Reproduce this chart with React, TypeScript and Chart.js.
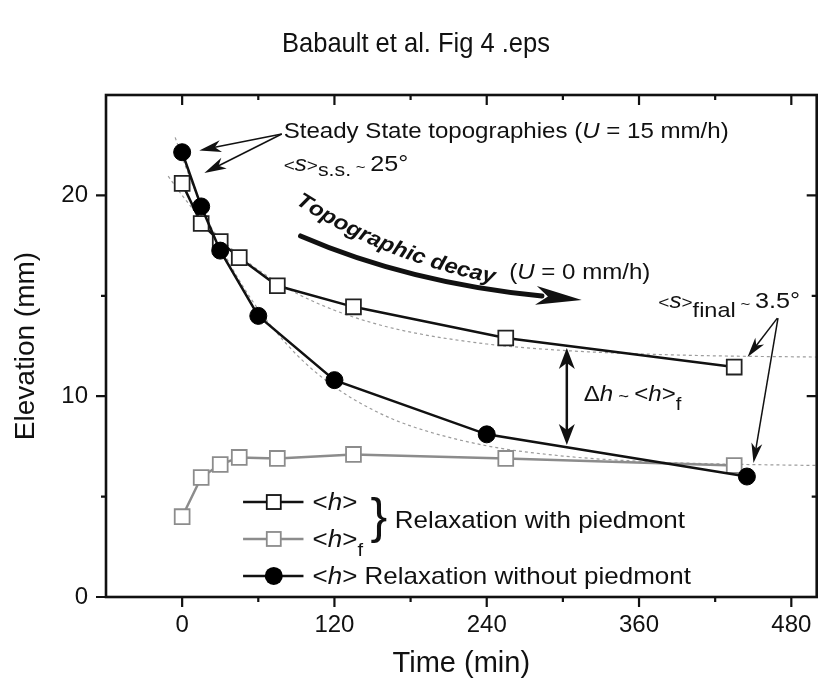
import React, { useEffect, useRef } from "react";
import { Chart, registerables } from "chart.js";

Chart.register(...registerables);

// ---- data ----
const TIME_PIEDMONT = [0, 15, 30, 45, 75, 135, 255, 435];
const H_PIEDMONT = [20.6, 18.6, 17.7, 16.9, 15.5, 14.45, 12.9, 11.45];
const HF_PIEDMONT = [4.0, 5.95, 6.6, 6.95, 6.9, 7.1, 6.9, 6.55];

const TIME_NO_PIEDMONT = [0, 15, 30, 60, 120, 240, 445];
const H_NO_PIEDMONT = [22.15, 19.45, 17.25, 14.0, 10.8, 8.1, 6.0];

const FIT_TIME_PIEDMONT = [-11, 0, 15, 30, 45, 60, 90, 120, 150, 180, 240, 300, 360, 420, 500];
const FIT_H_PIEDMONT = [20.96, 20.0, 18.85, 17.86, 17.02, 16.29, 15.13, 14.28, 13.65, 13.19, 12.6, 12.28, 12.11, 12.01, 11.95];
const FIT_TIME_NO_PIEDMONT = [-5.5, 0, 15, 30, 45, 60, 90, 120, 150, 180, 240, 300, 360, 420, 500];
const FIT_H_NO_PIEDMONT = [22.89, 21.9, 19.5, 17.48, 15.77, 14.33, 12.08, 10.47, 9.33, 8.52, 7.53, 7.02, 6.76, 6.63, 6.55];

const X_TICKS = [0, 120, 240, 360, 480];
const X_MINOR = [60, 180, 300, 420];
const Y_TICKS = [0, 10, 20];
const Y_MINOR = [5, 15];

const TITLE = "Babault et al. Fig 4 .eps";
const X_TITLE = "Time (min)";
const Y_TITLE = "Elevation (mm)";

// ---- style ----
const FONT = '"Liberation Sans", Arial, Helvetica, sans-serif';
const SX = 1.12;
const BLACK = "#111111";
const GRAY = "#8c8c8c";
const FIT_GRAY = "#9c9c9c";
const A = 21.5; // annotation font size
const L = 23.2; // legend font size

type Run = { t: string; size: number; style?: string; dy?: number };

function drawRuns(ctx: CanvasRenderingContext2D, x: number, y: number, runs: Run[]) {
  let cx = x;
  for (const r of runs) {
    ctx.font = `${r.style ? r.style + " " : ""}${r.size}px ${FONT}`;
    const w = ctx.measureText(r.t).width * SX;
    ctx.save();
    ctx.translate(cx, y + (r.dy || 0));
    ctx.scale(SX, 1);
    ctx.textAlign = "left";
    ctx.textBaseline = "alphabetic";
    ctx.fillText(r.t, 0, 0);
    ctx.restore();
    cx += w;
  }
  return cx;
}

function arrowHead(
  ctx: CanvasRenderingContext2D,
  tx: number,
  ty: number,
  ang: number,
  len: number,
  hw: number,
  notch: number
) {
  const dx = Math.cos(ang), dy = Math.sin(ang);
  const nx = -dy, ny = dx;
  ctx.beginPath();
  ctx.moveTo(tx, ty);
  ctx.lineTo(tx - len * dx + hw * nx, ty - len * dy + hw * ny);
  ctx.lineTo(tx - notch * dx, ty - notch * dy);
  ctx.lineTo(tx - len * dx - hw * nx, ty - len * dy - hw * ny);
  ctx.closePath();
  ctx.fill();
}

function thinArrow(ctx: CanvasRenderingContext2D, x0: number, y0: number, x1: number, y1: number, len: number, hw: number) {
  const ang = Math.atan2(y1 - y0, x1 - x0);
  ctx.beginPath();
  ctx.moveTo(x0, y0);
  ctx.lineTo(x1 - Math.cos(ang) * len * 0.6, y1 - Math.sin(ang) * len * 0.6);
  ctx.stroke();
  arrowHead(ctx, x1, y1, ang, len, hw, len * 0.72);
}

const framePlugin = {
  id: "frameTicks",
  afterDraw(chart: any) {
    const { ctx, chartArea: a, scales } = chart;
    const x = scales.x, y = scales.y;
    ctx.save();
    ctx.strokeStyle = BLACK;
    ctx.lineWidth = 2.6;
    ctx.strokeRect(a.left, a.top, a.right - a.left, a.bottom - a.top);
    ctx.lineWidth = 2.2;
    ctx.beginPath();
    const xt = (v: number, len: number) => {
      const px = x.getPixelForValue(v);
      ctx.moveTo(px, a.bottom);
      ctx.lineTo(px, a.bottom + len);
      ctx.moveTo(px, a.top);
      ctx.lineTo(px, a.top + len);
    };
    const yt = (v: number, len: number) => {
      const py = y.getPixelForValue(v);
      ctx.moveTo(a.left, py);
      ctx.lineTo(a.left - len, py);
      ctx.moveTo(a.right, py);
      ctx.lineTo(a.right - len, py);
    };
    X_TICKS.forEach((v) => xt(v, 10));
    X_MINOR.forEach((v) => xt(v, 5));
    Y_TICKS.forEach((v) => yt(v, 10));
    Y_MINOR.forEach((v) => yt(v, 5));
    ctx.stroke();
    ctx.restore();
  },
};

const annotationPlugin = {
  id: "annotations",
  afterDraw(chart: any) {
    const { ctx, scales } = chart;
    const X = (t: number) => scales.x.getPixelForValue(t);
    const Y = (v: number) => scales.y.getPixelForValue(v);
    ctx.save();
    ctx.fillStyle = BLACK;
    ctx.strokeStyle = BLACK;

    // Figure title
    ctx.font = `27.5px ${FONT}`;
    ctx.textAlign = "center";
    ctx.textBaseline = "alphabetic";
    const tw = ctx.measureText(TITLE).width;
    ctx.save();
    ctx.translate(416, 52);
    ctx.scale(268 / tw, 1);
    ctx.fillText(TITLE, 0, 0);
    ctx.restore();

    // Steady state text
    drawRuns(ctx, X(80), Y(22.86), [
      { t: "Steady State topographies (", size: A },
      { t: "U", size: A, style: "italic" },
      { t: " = 15 mm/h)", size: A },
    ]);
    drawRuns(ctx, X(80), Y(21.2), [
      { t: "<", size: 17 },
      { t: "s", size: A, style: "italic" },
      { t: ">", size: 17 },
      { t: "s.s.", size: 19, dy: 5 },
      { t: " ~ ", size: 15, dy: 1 },
      { t: "25°", size: 22.5 },
    ]);
    ctx.lineWidth = 1.5;
    thinArrow(ctx, X(78.5), Y(23.06), X(13.5), Y(22.24), 22, 6);
    thinArrow(ctx, X(78.5), Y(23.06), X(17.5), Y(21.12), 22, 6);

    // Thick curved arrow
    const p0x = X(93.3), p0y = Y(17.98);
    const cx = X(178.7), cy = Y(15.64);
    const p2x = X(283.5), p2y = Y(14.99);
    ctx.lineWidth = 5;
    ctx.lineCap = "round";
    ctx.beginPath();
    ctx.moveTo(p0x, p0y);
    ctx.quadraticCurveTo(cx, cy, p2x, p2y);
    ctx.stroke();
    const ang = Math.atan2(p2y - cy, p2x - cx);
    arrowHead(ctx, p2x + 40 * Math.cos(ang), p2y + 40 * Math.sin(ang), ang, 46, 9.5, 34);

    // Curved bold italic text
    {
      const text = "Topographic decay";
      const size = 21;
      ctx.font = `italic bold ${size}px ${FONT}`;
      const sx0 = X(89), sy0 = Y(19.6);
      const th0 = (33 * Math.PI) / 180;
      const R = 552;
      const ccx = sx0 + R * Math.sin(th0);
      const ccy = sy0 - R * Math.cos(th0);
      let s = 0;
      for (const ch of text) {
        const w = ctx.measureText(ch).width * SX;
        const sm = s + w / 2;
        const th = th0 - sm / R;
        const px = ccx - R * Math.sin(th);
        const py = ccy + R * Math.cos(th);
        ctx.save();
        ctx.translate(px, py);
        ctx.rotate(th);
        ctx.scale(SX, 1);
        ctx.textAlign = "center";
        ctx.fillText(ch, 0, 0);
        ctx.restore();
        s += w;
      }
    }
    drawRuns(ctx, X(257.7), Y(15.84), [
      { t: "(", size: A },
      { t: "U", size: A, style: "italic" },
      { t: " = 0 mm/h)", size: A },
    ]);

    // Final slope annotation
    drawRuns(ctx, X(375.2), Y(14.39), [
      { t: "<", size: 17 },
      { t: "s", size: A, style: "italic" },
      { t: ">", size: 17 },
      { t: "final", size: 21, dy: 9 },
      { t: " ~ ", size: 15, dy: 1 },
      { t: "3.5°", size: 22.5 },
    ]);
    ctx.lineWidth = 1.5;
    ctx.lineCap = "butt";
    thinArrow(ctx, X(469), Y(13.89), X(445.5), Y(11.95), 20, 5.5);
    thinArrow(ctx, X(469.5), Y(13.89), X(450.2), Y(6.67), 20, 5.5);

    // Double-headed arrow
    {
      const ax = X(303.1), ya = Y(12.4), yb = Y(7.57);
      ctx.lineWidth = 2.5;
      ctx.beginPath();
      ctx.moveTo(ax, ya + 12);
      ctx.lineTo(ax, yb - 12);
      ctx.stroke();
      arrowHead(ctx, ax, ya, -Math.PI / 2, 21, 8, 15);
      arrowHead(ctx, ax, yb, Math.PI / 2, 21, 8, 15);
    }
    drawRuns(ctx, X(316.4), Y(9.76), [
      { t: "Δ", size: A },
      { t: "h", size: A, style: "italic" },
      { t: " ~ ", size: 16.5, dy: 1 },
      { t: "<", size: A },
      { t: "h", size: A, style: "italic" },
      { t: ">", size: A },
      { t: "f", size: 18, dy: 9 },
    ]);

    // Legend
    {
      const lx0 = X(48), lx1 = X(95.6), mx = X(72.2), tx = X(102.8);
      const rows = [Y(4.73), Y(2.89), Y(1.05)];
      const drawLine = (yy: number, col: string) => {
        ctx.strokeStyle = col;
        ctx.lineWidth = 2.5;
        ctx.beginPath();
        ctx.moveTo(lx0, yy);
        ctx.lineTo(lx1, yy);
        ctx.stroke();
      };
      const drawSq = (yy: number, col: string) => {
        ctx.fillStyle = "#ffffff";
        ctx.fillRect(mx - 7, yy - 7, 14, 14);
        ctx.strokeStyle = col;
        ctx.lineWidth = 1.8;
        ctx.strokeRect(mx - 7, yy - 7, 14, 14);
      };
      drawLine(rows[0], BLACK);
      drawSq(rows[0], BLACK);
      drawLine(rows[1], GRAY);
      drawSq(rows[1], GRAY);
      drawLine(rows[2], BLACK);
      ctx.fillStyle = "#000";
      ctx.beginPath();
      ctx.arc(mx, rows[2], 9, 0, Math.PI * 2);
      ctx.fill();

      ctx.fillStyle = BLACK;
      const off = 8;
      drawRuns(ctx, tx, rows[0] + off, [
        { t: "<", size: L },
        { t: "h", size: L, style: "italic" },
        { t: ">", size: L },
      ]);
      drawRuns(ctx, tx, rows[1] + off, [
        { t: "<", size: L },
        { t: "h", size: L, style: "italic" },
        { t: ">", size: L },
        { t: "f", size: 18, dy: 9 },
      ]);
      drawRuns(ctx, tx, rows[2] + off, [
        { t: "<", size: L },
        { t: "h", size: L, style: "italic" },
        { t: "> Relaxation without piedmont", size: L },
      ]);
      // brace
      ctx.font = `50px ${FONT}`;
      ctx.textAlign = "left";
      ctx.fillText("}", X(148.5), (rows[0] + rows[1]) / 2 + 13);
      drawRuns(ctx, X(167.6), (rows[0] + rows[1]) / 2 + off, [
        { t: "Relaxation with piedmont", size: L },
      ]);
    }
    ctx.restore();
  },
};

function zip(xs: number[], ys: number[]) {
  return xs.map((x, i) => ({ x, y: ys[i] }));
}

export default function App() {
  const ref = useRef<HTMLCanvasElement | null>(null);
  useEffect(() => {
    if (!ref.current) return;
    const chart = new Chart(ref.current, {
      type: "scatter",
      data: {
        datasets: [
          {
            label: "<h> Relaxation without piedmont",
            data: zip(TIME_NO_PIEDMONT, H_NO_PIEDMONT),
            showLine: true,
            borderColor: BLACK,
            borderWidth: 2.5,
            pointStyle: "circle",
            pointRadius: 8.5,
            pointBackgroundColor: "#000",
            pointBorderColor: "#000",
            pointBorderWidth: 1,
            order: 0,
          },
          {
            label: "<h> Relaxation with piedmont",
            data: zip(TIME_PIEDMONT, H_PIEDMONT),
            showLine: true,
            borderColor: BLACK,
            borderWidth: 2.5,
            pointStyle: "rect",
            pointRadius: 10.5,
            pointBackgroundColor: "#fff",
            pointBorderColor: "#222",
            pointBorderWidth: 1.8,
            order: 1,
          },
          {
            label: "<h>f Relaxation with piedmont",
            data: zip(TIME_PIEDMONT, HF_PIEDMONT),
            showLine: true,
            borderColor: GRAY,
            borderWidth: 2.5,
            pointStyle: "rect",
            pointRadius: 10.5,
            pointBackgroundColor: "#fff",
            pointBorderColor: GRAY,
            pointBorderWidth: 1.8,
            order: 2,
          },
          {
            label: "fit with piedmont",
            data: zip(FIT_TIME_PIEDMONT, FIT_H_PIEDMONT),
            showLine: true,
            borderColor: FIT_GRAY,
            borderWidth: 1.2,
            borderDash: [3, 3],
            pointRadius: 0,
            cubicInterpolationMode: "monotone",
            order: 4,
          },
          {
            label: "fit without piedmont",
            data: zip(FIT_TIME_NO_PIEDMONT, FIT_H_NO_PIEDMONT),
            showLine: true,
            borderColor: FIT_GRAY,
            borderWidth: 1.2,
            borderDash: [3, 3],
            pointRadius: 0,
            cubicInterpolationMode: "monotone",
            order: 5,
          },
        ] as any,
      },
      options: {
        responsive: false,
        animation: false,
        devicePixelRatio: 1,
        layout: { padding: { left: 0, right: 7, top: 95, bottom: 0 } },
        plugins: {
          legend: { display: false },
          tooltip: { enabled: false },
          title: { display: false },
        },
        scales: {
          x: {
            type: "linear",
            min: -60,
            max: 500,
            grid: { display: false, drawTicks: false },
            border: { display: false },
            afterBuildTicks: (s: any) => {
              s.ticks = X_TICKS.map((v) => ({ value: v }));
            },
            afterFit: (s: any) => {
              s.height = 87;
            },
            ticks: {
              color: BLACK,
              font: { family: FONT, size: 24 },
              padding: 14,
              maxRotation: 0,
              autoSkip: false,
            },
            title: {
              display: true,
              text: X_TITLE,
              color: BLACK,
              font: { family: FONT, size: 29 },
              padding: { top: 0, bottom: 3 },
            },
          },
          y: {
            type: "linear",
            min: 0,
            max: 25,
            grid: { display: false, drawTicks: false },
            border: { display: false },
            afterBuildTicks: (s: any) => {
              s.ticks = Y_TICKS.map((v) => ({ value: v }));
            },
            afterFit: (s: any) => {
              s.width = 106;
            },
            ticks: {
              color: BLACK,
              font: { family: FONT, size: 24 },
              padding: 18,
              autoSkip: false,
            },
            title: {
              display: true,
              text: Y_TITLE,
              color: BLACK,
              font: { family: FONT, size: 28 },
              padding: { top: 9, bottom: 0 },
            },
          },
        },
      } as any,
      plugins: [framePlugin, annotationPlugin],
    });
    return () => chart.destroy();
  }, []);
  return (
    <div style={{ position: "absolute", left: 0, top: 0, width: 829, height: 684, background: "#fff" }}>
      <canvas ref={ref} width={829} height={684} style={{ width: 829, height: 684, display: "block" }} />
    </div>
  );
}
